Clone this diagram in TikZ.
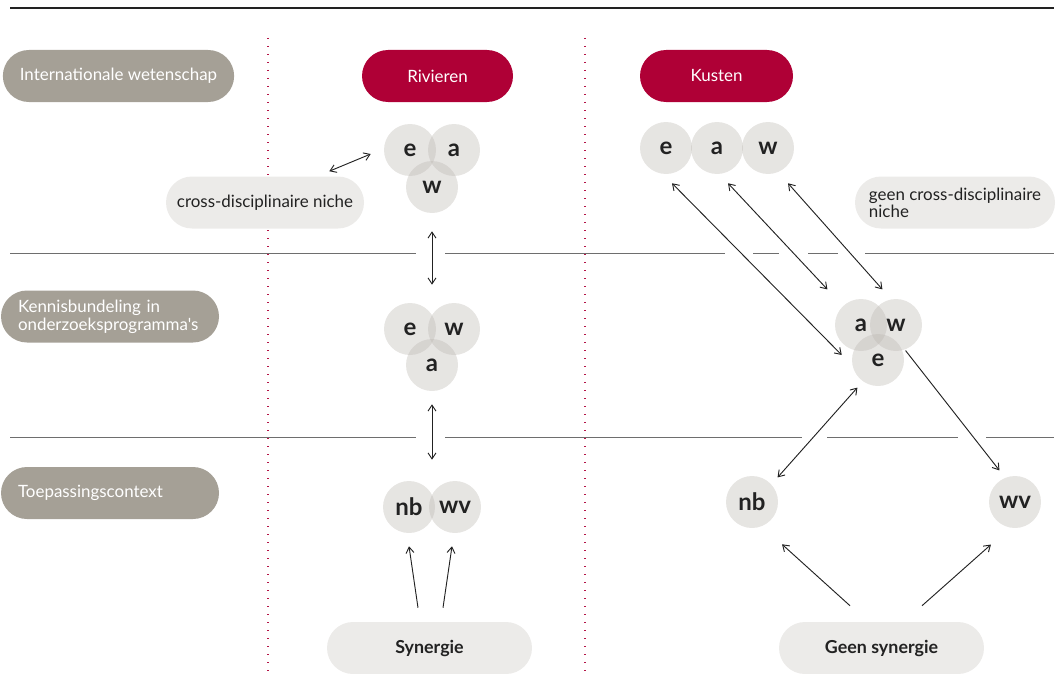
\documentclass[tikz,border=0pt]{standalone}
\usepackage{fontspec}
\newfontfamily\diagfont{Lato}
\usetikzlibrary{positioning,arrows.meta}

\definecolor{levelgray}{RGB}{165,160,150}
\definecolor{areared}{RGB}{175,0,54}
\definecolor{nichegray}{RGB}{236,235,233}
\definecolor{discgray}{RGB}{186,182,176}
\definecolor{rulegray}{RGB}{110,110,110}
\definecolor{dotred}{RGB}{180,20,70}
\definecolor{inkblack}{RGB}{34,34,34}

\tikzset{
  pill/.style={rectangle, rounded corners=19.5pt, minimum height=39pt, inner sep=0pt,
    font=\diagfont\fontsize{12.7}{13.5}\selectfont},
  levelpill/.style={pill, fill=levelgray, text=white, align=left, inner xsep=12.75pt},
  areapill/.style={pill, fill=areared, text=white, minimum width=#1},
  nichepill/.style={pill, fill=nichegray, text=inkblack, minimum width=#1},
  boldpill/.style={nichepill=#1, font=\diagfont\bfseries\fontsize{13.4}{14}\selectfont},
  disc/.style={circle, minimum size=39pt, inner sep=0pt, fill=discgray,
    fill opacity=0.36, text opacity=1, text=inkblack,
    font=\diagfont\bfseries\fontsize{18}{18}\selectfont},
  hrule/.style={rulegray, line width=0.75pt},
  dotcol/.style={dotred, line width=0.9pt, dash pattern=on 0.9pt off 5.1pt},
  linkarrow/.style={inkblack, line width=0.7pt},
}

\begin{document}
\begin{tikzpicture}[x=0.75pt,y=-0.75pt,>={Straight Barb[length=4.5pt,width=6pt]}]
  \useasboundingbox (0,0) rectangle (1056,674);
  % rules and columns
  \draw[inkblack,line width=1.5pt] (10,8) -- (1054,8);
  \draw[hrule] (10,253) -- (416,253) (445,253) -- (725,253) (753,253) -- (779,253)
    (808,253) -- (838,253) (865,253) -- (1054,253);
  \draw[hrule] (10,437) -- (416,437) (445,437) -- (802,437) (827,437) -- (958,437)
    (986,437) -- (1054,437);
  \draw[dotcol] (268,38) -- (268,674);
  \draw[dotcol] (585,38) -- (585,674);

  % level labels
  \node[levelpill, align=center, minimum width=170.25pt] (intl) at (118.5,76) {Internationale wetenschap};
  \node[levelpill, text width=138pt] (bundel) at (110,316.5) {Kennisbundeling in\\onderzoeksprogramma's};
  \node[levelpill, text width=138pt] (context) at (110,493) {Toepassingscontext};

  % areas
  \node[areapill=113.25pt] (rivieren) at (437.5,76) {Rivieren};
  \node[areapill=114.75pt] (kusten) at (716.5,76) {Kusten};

  \node[nichepill=148.5pt] (niche) at (265,202.5) {cross-disciplinaire niche};
  \node[nichepill=150pt, align=left, font=\diagfont\fontsize{12.7}{12.75}\selectfont]
    (noniche) at (955,202.5) {geen cross-disciplinaire\\niche};
  \node[boldpill=153.75pt] (syn) at (429.5,648) {Synergie};
  \node[boldpill=153.75pt] (nosyn) at (881.5,648) {Geen synergie};

  % disciplines, rivieren
  \node[disc] (re) at (410,150) {e};
  \node[disc] (ra) at (454,150) {a};
  \node[disc] (rw) at (432,187) {w};
  \node[disc] (me) at (410,329) {e};
  \node[disc] (mw) at (454,329) {w};
  \node[disc] (ma) at (432,365) {a};
  \node[disc] (rnb) at (409,507) {nb};
  \node[disc] (rwv) at (455,507) {wv};

  % disciplines, kusten
  \node[disc] (ke) at (666,148) {e};
  \node[disc] (ka) at (717,148) {a};
  \node[disc] (kw) at (768,148) {w};
  \node[disc] (ka2) at (861,325) {a};
  \node[disc] (kw2) at (896,325) {w};
  \node[disc] (ke2) at (878,360) {e};
  \node[disc] (knb) at (752,502) {nb};
  \node[disc] (kwv) at (1015,502) {wv};

  % connectors, rivieren
  \draw[linkarrow,<->] ([shift={(-35,-5)}]niche.north east) -- ([shift={(-13,4)}]re.west);
  \draw[linkarrow,<->,shorten <=13.5pt,shorten >=40.5pt] (rw) -- (ma);
  \draw[linkarrow,<->,shorten <=9.75pt,shorten >=15.75pt] (ma) -- (ma |- rnb.north);
  \draw[linkarrow,->] ([shift={(-11.5,-14)}]syn.north) -- ([shift={(0,13)}]rnb.south);
  \draw[linkarrow,->] ([shift={(13.5,-14)}]syn.north) -- ([shift={(-3,13)}]rwv.south);

  % connectors, kusten
  \draw[linkarrow,<->] ([shift={(6,9)}]ke.south) -- ([shift={(-10,-5)}]ke2.west);
  \draw[linkarrow,<->] ([shift={(11,9)}]ka.south) -- ([shift={(-15,-17)}]ka2.north west);
  \draw[linkarrow,<->] ([shift={(20,9)}]kw.south) -- ([shift={(5,-17)}]kw2.north west);
  \draw[linkarrow,<->] ([shift={(7,-6)}]knb.north east) -- ([shift={(-2,9)}]ke2.south west);
  \draw[linkarrow,->] ([shift={(-9,7)}]kw2.south east) -- ([shift={(3,-13)}]kwv.north west);
  \draw[linkarrow,->] ([shift={(-31.5,-16)}]nosyn.north) -- ([shift={(30,16)}]knb.south);
  \draw[linkarrow,->] ([shift={(40.5,-16)}]nosyn.north) -- ([shift={(-5.5,24)}]kwv.south west);
\end{tikzpicture}
\end{document}
